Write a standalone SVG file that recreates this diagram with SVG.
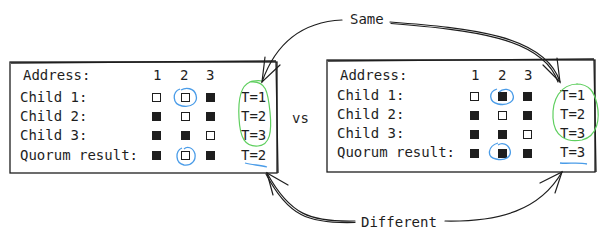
<svg xmlns="http://www.w3.org/2000/svg" width="610" height="242" viewBox="0 0 610 242">
<style>
text{font-family:"DejaVu Sans Mono","Liberation Mono",monospace;font-size:14px;fill:#1e1e1e}
.box{fill:none;stroke:#1e1e1e;stroke-width:1.3}
.f{fill:#1e1e1e}
.e{fill:#fff;stroke:#1e1e1e;stroke-width:1}
.g{fill:none;stroke:#5fcf5f;stroke-width:1.2}
.b{fill:none;stroke:#4a9ce8;stroke-width:1.3}
.c{fill:none;stroke:#1e1e1e;stroke-width:1.2;stroke-linecap:round}
</style>
<rect width="610" height="242" fill="#fff"/>
<g id="left">
<rect class="box" x="10" y="62" width="267" height="111"/>
<path class="box" d="M11,63 L276,61 M276,62 L278,173"/>
<text x="23" y="80">Address:</text>
<text x="153" y="80">1</text><text x="180" y="80">2</text><text x="206" y="80">3</text>
<text x="20" y="102">Child 1:</text>
<text x="20" y="121">Child 2:</text>
<text x="20" y="140">Child 3:</text>
<text x="20" y="160">Quorum result:</text>
<rect class="e" x="152.5" y="93.5" width="8" height="8"/><rect class="e" x="181.5" y="93.5" width="8" height="8"/><rect class="f" x="206" y="93" width="9" height="9"/>
<rect class="f" x="152" y="112" width="9" height="9"/><rect class="e" x="181.5" y="112.5" width="8" height="8"/><rect class="f" x="206" y="112" width="9" height="9"/>
<rect class="f" x="152" y="131" width="9" height="9"/><rect class="f" x="181" y="131" width="9" height="9"/><rect class="e" x="206.5" y="131.5" width="8" height="8"/>
<rect class="f" x="152" y="151" width="9" height="9"/><rect class="e" x="181.5" y="151.5" width="8" height="8"/><rect class="f" x="206" y="151" width="9" height="9"/>
<text x="241" y="102">T=1</text><text x="241" y="121">T=2</text><text x="241" y="140">T=3</text><text x="241" y="160">T=2</text>
<path class="g" d="M250,82 C240,86 238,100 239,118 C240,138 245,147 258,146 C270,145 272,132 270,112 C268,92 266,80 250,82 C248,82 256,80 262,81"/>
<path class="b" d="M180,89 C172,92 172,104 182,106 C192,108 198,102 196,95 C194,88 186,87 181,90"/>
<path class="b" d="M182,148 C175,151 175,163 184,165 C192,166 196,160 195,154 C193,147 187,146 184,149"/>
<path class="b" d="M245,163 C252,165 260,165 267,167"/>
</g>
<g id="right">
<rect class="box" x="327" y="60" width="268" height="112"/>
<path class="box" d="M328,61 L594,59 M594,60 L596,172"/>
<text x="340" y="80">Address:</text>
<text x="471" y="80">1</text><text x="498" y="80">2</text><text x="524" y="80">3</text>
<text x="337" y="100">Child 1:</text>
<text x="337" y="119">Child 2:</text>
<text x="337" y="138">Child 3:</text>
<text x="337" y="157">Quorum result:</text>
<rect class="e" x="470.5" y="92.5" width="8" height="8"/><rect class="f" x="498" y="92" width="9" height="9"/><rect class="f" x="523" y="92" width="9" height="9"/>
<rect class="f" x="470" y="111" width="9" height="9"/><rect class="e" x="498.5" y="111.5" width="8" height="8"/><rect class="f" x="523" y="111" width="9" height="9"/>
<rect class="f" x="470" y="130" width="9" height="9"/><rect class="f" x="498" y="130" width="9" height="9"/><rect class="e" x="523.5" y="130.5" width="8" height="8"/>
<rect class="f" x="470" y="149" width="9" height="9"/><rect class="f" x="498" y="149" width="9" height="9"/><rect class="f" x="523" y="149" width="9" height="9"/>
<text x="560" y="100">T=1</text><text x="560" y="119">T=2</text><text x="560" y="138">T=3</text><text x="560" y="157">T=3</text>
<path class="g" d="M578,84 C560,84 552,100 553,118 C554,136 566,143 582,140 C598,136 600,118 597,104 C594,92 590,84 576,84"/>
<path class="b" d="M497,89 C488,92 489,102 498,104 C508,106 515,101 513,95 C511,88 503,88 499,92"/>
<path class="b" d="M498,143 C488,146 486,157 496,159 C505,161 512,157 510,150 C508,144 502,142 498,145"/>
<path class="b" d="M560,163 C568,164 578,162 587,164"/>
</g>
<text x="292" y="123">vs</text>
<g id="labels">
<text x="350" y="24">Same</text>
<text x="361" y="227">Different</text>
</g>
<g id="connectors">
<path class="c" d="M342,20 C300,22 275,45 262,82"/>
<path class="c" d="M265,57 L262,82 L280,65"/>
<path class="c" d="M390,22 C470,28 545,35 560,82"/>
<path class="c" d="M391,23.5 C470,30 543,37 558,82"/>
<path class="c" d="M543,65 L560,82 L557,58"/>
<path class="c" d="M355,221 C310,222 290,215 267,173"/>
<path class="c" d="M355,222.5 C308,224 288,216 266,174"/>
<path class="c" d="M273,195 L267,173 L288,185"/>
<path class="c" d="M445,221 C500,222 540,210 562,172"/>
<path class="c" d="M540,183 L562,172 L555,193"/>
</g>
</svg>
